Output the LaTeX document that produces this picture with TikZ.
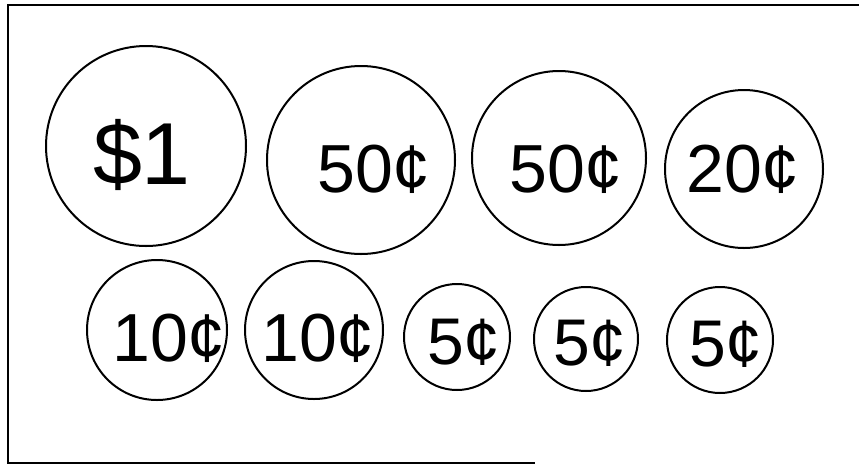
\documentclass[tikz,border=0pt]{standalone}
\usepackage{fontspec}
\setmainfont{Liberation Sans}
\begin{document}
\begin{tikzpicture}[x=1pt,y=-1pt,
  coin/.style={draw=black,line width=2pt,circle,inner sep=0pt},
  big/.style={font=\fontsize{88}{88}\selectfont},
  mid/.style={font=\fontsize{68}{68}\selectfont},
  sml/.style={font=\fontsize{66}{66}\selectfont},
  frameline/.style={line width=1.8pt,black}]
\useasboundingbox (0,0) rectangle (859,464);
% frame
\coordinate (ftr) at (859,5);
\coordinate (ftl) at (8,5);
\coordinate (fbl) at (8,463);
\coordinate (fbr) at (535,463);
\draw[frameline] (ftr) -- (ftl) -- (fbl) -- (fbr);
% coins row 1
\node[coin,minimum size=200pt] (c1) at (146,146) {};
\node[coin,minimum size=188pt] (c2) at (361,160) {};
\node[coin,minimum size=174pt] (c3) at (559,158) {};
\node[coin,minimum size=158pt] (c4) at (744,169) {};
% coins row 2
\node[coin,minimum size=140pt] (c5) at (157,330) {};
\node[coin,minimum size=138pt] (c6) at (314,330) {};
\node[coin,minimum size=106pt] (c7) at (457,337) {};
\node[coin,minimum size=104pt] (c8) at (586,339) {};
\node[coin,minimum size=106pt] (c9) at (720,340) {};
% labels
\node[big,inner sep=0pt,anchor=center] (t1) at (142,155) {\$1};
\node[mid,inner sep=0pt] (t2) at (374,169) {50¢};
\node[mid,inner sep=0pt] (t3) at (566,169) {50¢};
\node[mid,inner sep=0pt] (t4) at (743,169) {20¢};
\node[mid,inner sep=0pt] (t5) at (169,338) {10¢};
\node[mid,inner sep=0pt] (t6) at (318,338) {10¢};
\node[sml,inner sep=0pt] (t7) at (464,342) {5¢};
\node[sml,inner sep=0pt] (t8) at (590,343) {5¢};
\node[sml,inner sep=0pt] (t9) at (726,344) {5¢};
\end{tikzpicture}
\end{document}
